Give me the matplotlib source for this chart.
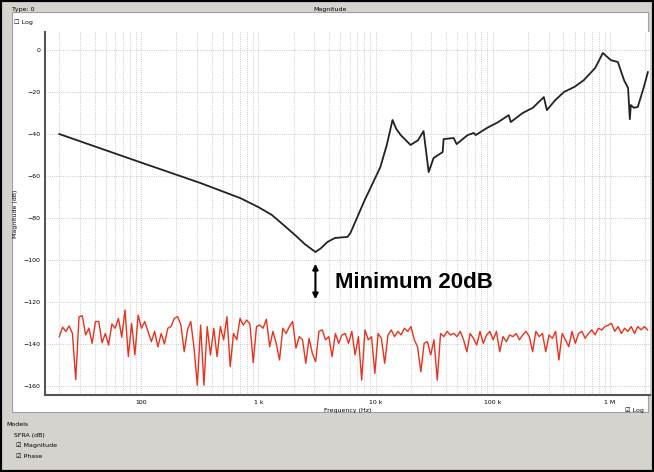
import numpy as np
import matplotlib.pyplot as plt
from matplotlib.patches import Rectangle

# black trace: frequency (Hz) / magnitude (dB)
mag_freq = [20, 100, 319, 700, 1000, 1300, 1540, 2000, 2500, 3070, 3400, 3890, 4500, 5770,
            6110, 8000, 11000, 12500, 13960, 15000, 16400, 19900, 23000, 25700, 28400,
            31300, 37400, 38100, 46400, 49200, 61100, 68800, 71600, 90000, 110000,
            137000, 142600, 180000, 220000, 273000, 290000, 340000, 405000, 500000,
            600000, 750000, 871000, 1.02e6, 1.17e6, 1.32e6, 1.43e6, 1.48e6, 1.51e6,
            1.6e6, 1.73e6, 1.95e6, 2.11e6]
mag_db = [-40, -53.6, -63.3, -70.5, -74.8, -78.5, -82.0, -87.5, -92.5, -96.2, -94.5, -91.4,
          -89.5, -89.0, -87.1, -72, -55.7, -45, -33.3, -37.5, -40.5, -45.2, -43, -38.6, -58.1,
          -51.4, -48.6, -42.4, -41.9, -44.8, -40.5, -39.5, -40.5, -37.0, -34.5,
          -31.0, -34.3, -30.0, -27.5, -22.4, -28.6, -24.0, -20.0, -17.5,
          -14.3, -8.5, -1.4, -4.8, -5.7, -14.3, -18.1, -32.9, -26.2,
          -27.5, -27.1, -17.6, -10.5]

# red trace: noise floor (dB), read left to right
noise_db = [
    -136.5, -132, -134, -131.4, -135, -157, -127, -126.6, -135.7, -132.5, -139.7, -129.3,
    -129.3, -139.4, -135, -140.5, -130.5, -132.5, -127.8, -136.8, -123.8, -146, -130.2,
    -145.2, -126.2, -132.5, -129.3, -134, -138.9, -134, -141.3, -135, -140, -132.5,
    -131.7, -127.8, -127, -131, -143.7, -133.3, -129.3, -142, -159.6, -131, -159.6,
    -131.7, -145.2, -132.5, -146, -131.7, -138, -127, -150.8, -135, -138, -127.8, -131,
    -128.6, -130.5, -148.9, -131.7, -131, -132.5, -128.2, -141.3, -134, -139.7, -147.6,
    -132.5, -135, -131.7, -129.3, -142, -136.5, -138, -149.2, -137.3, -144.5, -148.4,
    -134, -133.3, -138, -136.5, -146, -135, -139.7, -135.7, -135, -139.7, -134, -145.2,
    -136.5, -157.2, -133.3, -138, -136.5, -154, -135, -137.3, -149.2, -135.7, -133.3,
    -136.5, -134, -135.7, -132.5, -134, -131.7, -138, -141.3, -153.2, -139.7, -138.9,
    -145.2, -138, -157.2, -135, -136.5, -134,
    -135.7, -135, -136.5, -134, -138, -143.7, -135, -137.3, -140.5, -134, -139.7, -135.7,
    -134, -138, -134, -143.7, -136.5, -138.9, -135.7, -136.5, -135, -138, -135.7, -134,
    -136.5, -143.7, -134, -136.5, -135, -143.7, -135.7, -137.3, -134, -147.6, -135, -138,
    -141.3, -134, -139.7, -135, -134, -137.3, -135, -133.3, -135.7, -132.5, -133.3,
    -131.7, -131, -130.2, -134, -131.7, -135, -132.5, -134, -131.7, -135, -131.7, -133.3,
    -131.7, -133.3]
noise_freq = np.geomspace(20, 2.1e6, len(noise_db))

W, H = 654, 472
fig = plt.figure(figsize=(W / 100, H / 100), dpi=100, facecolor='#d6d3ce')
# window chrome
fig.patches.append(Rectangle((0, 0), 1, 1, transform=fig.transFigure, fill=False,
                             edgecolor='black', lw=3, zorder=-10))
fig.patches.append(Rectangle((12 / W, 1 - 412 / H), 636 / W, 400 / H, transform=fig.transFigure,
                             facecolor='white', edgecolor='#a0a0a0', lw=0.8, zorder=-10))
fig.text(12 / W, 1 - 9 / H, 'Type: 0', fontsize=4.5, va='center')
fig.text(330 / W, 1 - 9 / H, 'Magnitude', fontsize=4.5, va='center', ha='center')
fig.text(14 / W, 1 - 22 / H, '\u2610 Log', fontsize=4.5, va='center')
fig.text(625 / W, 1 - 410 / H, '\u2611 Log', fontsize=4.5, va='center')
fig.text(6 / W, 1 - 425 / H, 'Models', fontsize=4.5, va='center')
fig.text(14 / W, 1 - 435 / H, 'SFRA (dB)', fontsize=4.5, va='center')
fig.text(16 / W, 1 - 445 / H, '\u2611 Magnitude', fontsize=4.5, va='center')
fig.text(16 / W, 1 - 456 / H, '\u2611 Phase', fontsize=4.5, va='center')

ax = fig.add_axes([45 / W, 1 - 395 / H, 605 / W, 363 / H])
ax.set_facecolor('white')
ax.set_xscale('log')
ax.set_xlim(15.1, 2.2e6)
ax.set_ylim(-164.3, 8.6)

ax.plot(noise_freq, noise_db, color='#e8321e', lw=1.0)
ax.plot(mag_freq, mag_db, color='#222222', lw=1.3)

ax.set_yticks(np.arange(-160, 1, 20))
ax.set_xticks([100, 1e3, 1e4, 1e5, 1e6])
ax.set_xticklabels(['100', '1 k', '10 k', '100 k', '1 M'])
ax.grid(True, which='both', color='#bbbbbb', ls=':', lw=0.6)
ax.tick_params(labelsize=4.5, length=0, which='both')
ax.set_xlabel('Frequency (Hz)', fontsize=4.5, labelpad=2)
ax.set_ylabel('Magnitude (dB)', fontsize=4.5, labelpad=4)
for s in ['top', 'right']:
    ax.spines[s].set_visible(False)
ax.spines['left'].set_color('#555555')
ax.spines['bottom'].set_color('#555555')
ax.spines['left'].set_linewidth(1.5)
ax.spines['bottom'].set_linewidth(1.5)

ax.annotate('', xy=(3070, -120), xytext=(3070, -100.5),
            arrowprops=dict(arrowstyle='<|-|>', color='black', lw=1.5, mutation_scale=8))
ax.text(4470, -110.5, 'Minimum 20dB', fontsize=16, fontweight='bold', va='center',
        family='Liberation Sans')

fig.savefig('out.png', dpi=100, facecolor=fig.get_facecolor())
